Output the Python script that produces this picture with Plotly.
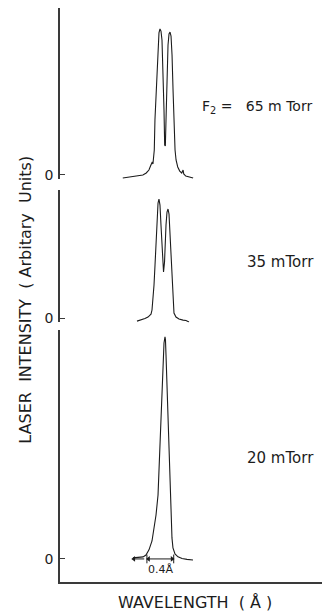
import plotly.graph_objects as go

# ---- data (wavelength offset in Å, intensity in arbitrary units) ----
top_x = [-0.63, -0.57, -0.51, -0.45, -0.39, -0.33, -0.28, -0.24, -0.21, -0.19, -0.18, -0.16, -0.15, -0.13,
         -0.12, -0.10, -0.09, -0.075, -0.06, -0.045, -0.03, -0.015, -0.005, 0.005, 0.015, 0.03, 0.045, 0.06,
         0.075, 0.09, 0.105, 0.12, 0.135, 0.15, 0.165, 0.19, 0.22, 0.25, 0.27, 0.28, 0.31, 0.34, 0.37, 0.42]
top_y = [-0.021, -0.017, -0.014, -0.010, -0.007, 0.0, 0.014, 0.034, 0.068, 0.089, 0.075, 0.171, 0.377, 0.582,
         0.753, 0.890, 0.973, 1.0, 0.986, 0.925, 0.719, 0.445, 0.205, 0.199, 0.377, 0.685, 0.890, 0.966,
         0.979, 0.952, 0.822, 0.582, 0.342, 0.171, 0.103, 0.055, 0.027, 0.014, 0.034, 0.007, -0.007, -0.010,
         -0.014, -0.021]

mid_x = [-0.418, -0.358, -0.299, -0.254, -0.209, -0.194, -0.179, -0.164, -0.149, -0.134, -0.119, -0.104,
         -0.090, -0.075, -0.060, -0.045, -0.030, -0.022, -0.007, 0.0, 0.015, 0.030, 0.045, 0.060, 0.075,
         0.090, 0.104, 0.119, 0.134, 0.164, 0.209, 0.269, 0.313, 0.358]
mid_y = [-0.021, -0.014, -0.003, 0.007, 0.027, 0.055, 0.123, 0.226, 0.363, 0.534, 0.705, 0.788, 0.815,
         0.774, 0.637, 0.466, 0.329, 0.315, 0.384, 0.500, 0.637, 0.726, 0.747, 0.712, 0.568, 0.384, 0.226,
         0.089, 0.034, 0.007, -0.007, -0.014, -0.017, -0.027]

bot_x = [-0.478, -0.403, -0.328, -0.284, -0.239, -0.194, -0.164, -0.134, -0.104, -0.090, -0.075, -0.060,
         -0.045, -0.030, -0.015, 0.0, 0.007, 0.015, 0.030, 0.045, 0.060, 0.075, 0.090, 0.104, 0.119, 0.149,
         0.194, 0.254, 0.328, 0.418]
bot_y = [0.007, 0.010, 0.014, 0.027, 0.062, 0.123, 0.199, 0.301, 0.438, 0.610, 0.815, 1.021, 1.192, 1.363,
         1.479, 1.521, 1.500, 1.397, 1.192, 0.952, 0.678, 0.438, 0.267, 0.144, 0.075, 0.034, 0.014, 0.003,
         -0.003, -0.007]

panel_labels = ["F<sub>2</sub>\u00a0=\u00a0\u00a0 65 m\u00a0Torr", "35 mTorr", "20 mTorr"]
width_label = "0.4Å"
fwhm_left, fwhm_right = -0.27, 0.13

FONT = "DejaVu Sans"
INK = "#1c1c1c"
AX = "#3a3a3a"

fig = go.Figure()
line = dict(color=INK, width=1.1)
fig.add_trace(go.Scatter(x=top_x, y=top_y, mode="lines", line=line, xaxis="x", yaxis="y", showlegend=False))
fig.add_trace(go.Scatter(x=mid_x, y=mid_y, mode="lines", line=line, xaxis="x", yaxis="y2", showlegend=False))
fig.add_trace(go.Scatter(x=bot_x, y=bot_y, mode="lines", line=line, xaxis="x", yaxis="y3", showlegend=False))

# 0.4 Å width marker: dimension line with arrowheads, plus a small left-pointing arrow
fig.add_trace(go.Scatter(x=[fwhm_left, fwhm_right], y=[0, 0], mode="lines", line=dict(color=INK, width=1),
                         xaxis="x", yaxis="y3", showlegend=False, hoverinfo="skip"))
fig.add_trace(go.Scatter(x=[fwhm_left + 0.025, fwhm_right - 0.025], y=[0, 0], mode="markers",
                         marker=dict(symbol=["triangle-left", "triangle-right"], size=5, color=INK),
                         xaxis="x", yaxis="y3", showlegend=False, hoverinfo="skip"))
fig.add_trace(go.Scatter(x=[fwhm_left - 0.04, fwhm_left - 0.21], y=[0, 0], mode="lines",
                         line=dict(color=INK, width=1), xaxis="x", yaxis="y3", showlegend=False,
                         hoverinfo="skip"))
fig.add_trace(go.Scatter(x=[fwhm_left - 0.195], y=[0], mode="markers",
                         marker=dict(symbol="triangle-left", size=5, color=INK),
                         xaxis="x", yaxis="y3", showlegend=False, hoverinfo="skip"))
for xv in (fwhm_left, fwhm_right):
    fig.add_shape(type="line", xref="x", yref="y3", x0=xv, x1=xv, y0=-0.03, y1=0.03,
                  line=dict(color=INK, width=1))

yax = dict(showline=True, linecolor=AX, linewidth=1.5, showgrid=False, zeroline=False,
           tickmode="array", tickvals=[0], ticktext=["0"], ticks="inside", ticklen=5,
           tickcolor=AX, tickwidth=1.2, ticklabelstandoff=2,
           tickfont=dict(family=FONT, size=14, color=INK), anchor="x")

fig.update_layout(
    width=322, height=614,
    margin=dict(l=60, r=0, t=0, b=32),
    paper_bgcolor="white", plot_bgcolor="white",
    xaxis=dict(domain=[0, 1], range=[-1.567, 2.343], showline=True, linecolor=AX, linewidth=1.5,
               showticklabels=False, ticks="", showgrid=False, zeroline=False, anchor="y3"),
    yaxis=dict(domain=[0.6918, 0.9863], range=[-0.03, 1.144], **yax),
    yaxis2=dict(domain=[0.4460, 0.6735], range=[-0.03, 0.877], **yax),
    yaxis3=dict(domain=[0.0, 0.433], range=[-0.158, 1.568], **yax),
)

def label(text, x, y, size, **kw):
    fig.add_annotation(text=text, xref="paper", yref="paper", x=x, y=y, xanchor="center",
                       yanchor="middle", showarrow=False,
                       font=dict(family=FONT, size=size, color=INK), **kw)

label(panel_labels[0], 0.752, 0.816, 14)
label(panel_labels[1], 0.8435, 0.5498, 15)
label(panel_labels[2], 0.84, 0.213, 15)
label("LASER\u00a0 INTENSITY\u00a0 (\u00a0Arbitary\u00a0 Units)", -0.135, 0.4845, 16, textangle=-90)
label("WAVELENGTH\u00a0 (\u00a0Å\u00a0)", 0.515, -0.036, 16)

fig.add_annotation(text=width_label, x=(fwhm_left + fwhm_right) / 2, y=-0.075, xref="x", yref="y3",
                   showarrow=False, font=dict(family=FONT, size=11, color=INK))

fig.write_html("out.html")
